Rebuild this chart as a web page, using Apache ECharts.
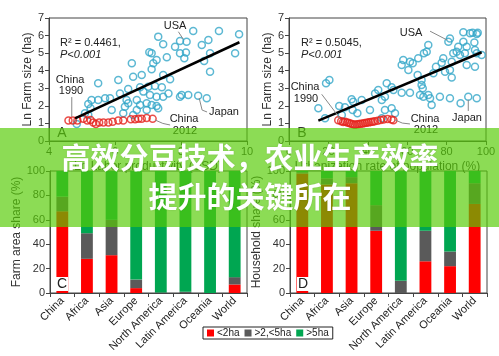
<!DOCTYPE html>
<html><head><meta charset="utf-8">
<script src="https://cdn.jsdelivr.net/npm/echarts@6/dist/echarts.min.js"></script>
<style>html,body{margin:0;padding:0;background:#fff}#c{width:499px;height:356px}</style>
</head><body><div id="c"></div>
<script>
// ---- Panel A: Ln labour productivity vs Ln farm size ----
const blueA = [[9.76,6.07],[9.15,6.26],[8.37,6.26],[7.31,5.94],[7.46,5.50],[7.97,5.69],[8.17,5.65],[7.82,5.37],[8.63,5.46],[8.83,5.75],[8.88,4.99],[9.64,4.99],[8.15,5.03],[7.97,4.99],[8.10,4.71],[7.04,5.05],[7.11,4.99],[7.57,4.76],[7.26,4.61],[7.16,4.42],[7.11,4.08],[6.51,4.42],[7.46,3.76],[7.67,3.51],[8.70,4.55],[8.88,3.94],[6.81,3.76],[6.55,3.66],[6.10,3.47],[5.49,3.28],[6.40,2.96],[6.76,3.06],[6.86,2.81],[7.01,3.09],[7.21,3.13],[7.42,3.06],[7.06,2.62],[7.26,2.52],[7.46,2.52],[6.15,2.71],[5.85,2.43],[5.70,2.43],[5.49,2.33],[5.29,2.33],[5.19,2.11],[5.26,1.86],[6.35,2.33],[6.40,2.15],[6.30,1.95],[6.66,2.33],[6.76,2.05],[6.96,2.15],[7.11,2.05],[7.26,1.99],[6.66,1.76],[6.96,1.76],[7.31,1.86],[5.90,1.76],[6.25,1.58],[6.55,1.48],[7.97,2.52],[8.02,2.62],[8.22,2.62],[8.52,2.58],[8.78,2.43],[7.62,2.71],[5.09,1.58],[5.19,1.48],[4.84,0.97]];
const redA = [[4.59,1.16],[4.72,1.16],[4.86,1.16],[5.04,1.27],[5.16,1.16],[5.26,1.20],[5.34,1.05],[5.42,0.97],[5.52,1.05],[5.65,1.05],[5.80,1.05],[5.93,1.10],[6.10,1.16],[6.25,1.16],[6.48,1.24],[6.61,1.24],[6.71,1.27],[6.81,1.27],[6.96,1.31],[7.14,1.27]];
const trendA = [[4.79,1.29],[9.77,5.62]];
const leadA = [
  [[7.92,6.22],[8.07,5.79]],
  [[4.69,2.50],[4.69,1.37]],
  [[8.55,2.45],[8.64,1.76],[8.79,1.65]],
  [[7.21,1.20],[7.45,1.00],[7.67,0.91]]
];
// ---- Panel B: urbanization vs Ln farm size ----
const blueB = [[14.9,1.86],[18.3,1.29],[18.8,3.28],[20.5,3.47],[25.5,1.99],[28.4,1.92],[26.8,1.48],[31.8,2.37],[32.6,2.24],[32.3,1.76],[34.7,1.58],[36.9,2.33],[41.1,1.76],[45.3,2.90],[43.7,2.71],[47.1,2.33],[49.6,3.28],[48.7,2.52],[52.1,3.06],[53.0,2.90],[48.7,1.76],[52.1,1.86],[53.8,1.58],[47.1,1.29],[57.2,2.75],[61.4,2.75],[58.0,4.61],[61.4,4.51],[62.8,4.42],[57.2,4.33],[60.6,4.04],[65.6,4.71],[65.3,3.76],[67.3,3.47],[67.3,3.19],[67.9,3.00],[66.5,2.62],[68.2,2.52],[70.7,2.62],[71.6,2.43],[72.4,2.05],[76.6,2.52],[81.7,2.43],[68.5,4.99],[69.9,5.08],[70.7,5.46],[73.3,3.85],[74.6,4.23],[77.5,4.46],[78.3,4.71],[82.6,4.51],[81.7,4.04],[82.6,3.62],[79.2,3.94],[80.9,5.65],[81.7,5.84],[83.4,4.99],[85.1,5.08],[85.9,5.37],[86.8,4.89],[88.5,5.65],[89.3,4.99],[90.2,5.37],[93.2,6.16],[95.8,6.16],[95.3,6.09],[94.1,5.60],[94.4,5.18],[95.3,4.99],[90.2,4.33],[94.4,4.23],[97.8,4.89],[91.9,6.13],[88.5,6.19],[87.1,2.15],[91.0,2.52],[95.3,2.43]];
const redB = [[25,1.18],[26.5,1.12],[27.5,1.08],[28.5,1.10],[29.5,1.05],[30.5,1.02],[31.5,0.98],[32.5,0.95],[33.5,0.93],[34.5,0.95],[35.5,0.97],[36.5,0.98],[37.5,1.00],[38.5,1.02],[39.5,1.04],[40.5,1.06],[41.5,1.08],[42.5,1.10],[43.5,1.12],[45,1.15],[46.5,1.20],[48,1.22],[50,1.25],[52,1.22],[53,1.18]];
const trendB = [[14.9,1.16],[97.8,5.05]];
const leadB = [
  [[71.6,6.25],[80.2,5.75]],
  [[16.6,2.66],[25.9,1.29]],
  [[91.0,2.35],[91.0,1.71]],
  [[53.8,1.20],[57.5,1.02],[61.4,0.97]]
];
// ---- Panels C & D: stacked shares ----
const categories = ['China','Africa','Asia','Europe','North America','Latin America','Oceania','World'];
const seriesNames = ['<2ha','>2,<5ha','>5ha'];
const areaSmall = [67,28,31,4,0,0,0,7];
const areaMid   = [12,21,29,7,0.5,1,0,6];
const areaLarge = [21,51,40,89,99.5,99,100,87];
const hhSmall = [98,89,90,51,0,26,22,73];
const hhMid   = [1,5,5,21,10,25,12,17];
const hhLarge = [1,6,5,28,90,49,66,10];
const ticksFarm = {min:0,max:7,interval:1};
const ticksShare = {min:0,max:100,interval:20};

const BLUE = '#33a6c8', RED = '#e5221c';
const BAR_COLORS = ['#ff0000','#5a5a5a','#00a651'];
const FONT = 'Liberation Sans, Arial, sans-serif';
const AX = '#444', TXT = '#333';

const chart = echarts.init(document.getElementById('c'), null, {renderer:'canvas'});

function valAxis(gi, ext, name, gap){
  return {type:'value', gridIndex:gi, min:ext.min, max:ext.max, interval:ext.interval,
    name:name, nameLocation:'middle', nameGap:gap, nameTextStyle:{fontSize:12,color:TXT,fontFamily:FONT},
    axisLine:{show:true,lineStyle:{color:AX,width:1}}, axisTick:{show:true,length:4,lineStyle:{color:AX}},
    axisLabel:{fontSize:11,color:TXT,fontFamily:FONT,margin:5}, splitLine:{show:false}};
}
function catAxis(gi){
  return {type:'category', gridIndex:gi, data:categories, boundaryGap:true,
    axisLine:{show:true,lineStyle:{color:AX,width:1}}, axisTick:{show:true,length:4,lineStyle:{color:AX}},
    axisLabel:{fontSize:11,color:'#222',fontFamily:FONT,rotate:45,interval:0,margin:6}, splitLine:{show:false}};
}
function ring(data, color, xi, z){
  return {type:'scatter', xAxisIndex:xi, yAxisIndex:xi, data:data, symbol:'circle', symbolSize:7, z:z,
    itemStyle:{color:'rgba(255,255,255,0)', borderColor:color, borderWidth:1.5}, silent:true};
}
function line(data, xi, color, w){
  return {type:'line', xAxisIndex:xi, yAxisIndex:xi, data:data, symbol:'none', z:5, silent:true,
    lineStyle:{color:color,width:w}};
}
function bars(gi, arrs){
  return arrs.map((a,i)=>({type:'bar', name:seriesNames[i], stack:'s'+gi, xAxisIndex:gi, yAxisIndex:gi,
    data:a, barWidth:'48%', itemStyle:{color:BAR_COLORS[i]}, silent:true}));
}

const series = [
  ring(blueA, BLUE, 0, 3), ring(redA, RED, 0, 4), line(trendA, 0, '#000', 2.5),
  ...leadA.map(d=>line(d,0,'#888',1)),
  ring(blueB, BLUE, 1, 3), ring(redB, RED, 1, 4), line(trendB, 1, '#000', 2.5),
  ...leadB.map(d=>line(d,1,'#888',1)),
  ...bars(2, [areaSmall, areaMid, areaLarge]),
  ...bars(3, [hhSmall, hhMid, hhLarge])
];

function t(text, x, y, opts){
  return Object.assign({type:'text', x:x, y:y, z:50, style:Object.assign({text:text, fontSize:11, fill:'#222',
    fontFamily:FONT, align:'center', verticalAlign:'middle'}, opts||{})});
}

const graphic = [
  t('R² = 0.4461,', 60, 43, {align:'left'}),
  t('P<0.001', 60, 55, {align:'left', fontStyle:'italic'}),
  t('USA', 175, 26),
  t('China', 70, 80), t('1990', 71, 91),
  t('Japan', 224, 112),
  t('China', 184, 119), t('2012', 185, 131),
  t('A', 62, 133, {fontSize:14, fill:'#333'}),
  t('R² = 0.5045,', 301, 43, {align:'left'}),
  t('P<0.001', 301, 55, {align:'left', fontStyle:'italic'}),
  t('USA', 411, 33),
  t('China', 305, 87, {backgroundColor:'#fff'}), t('1990', 306, 99),
  t('Japan', 467, 118),
  t('China', 425, 119), t('2012', 426, 130),
  t('B', 302, 133, {fontSize:14, fill:'#333'}),
  t('C', 62, 284, {fontSize:14, fill:'#222', backgroundColor:'#fff', padding:[0,1]}),
  t('D', 303, 284, {fontSize:14, fill:'#222', backgroundColor:'#fff', padding:[0,1]}),
  {type:'rect', z:100, shape:{x:0,y:128,width:499,height:99}, style:{fill:'rgba(85,203,5,0.68)'}},
  {type:'text', z:101, x:250, y:158, style:{text:'高效分豆技术，农业生产效率', fontSize:29, fontWeight:'bold',
    fontFamily:'Noto Sans CJK SC', fill:'#fff', align:'center', verticalAlign:'middle',
    textShadowColor:'rgba(0,0,0,0.15)', textShadowBlur:2}},
  {type:'text', z:101, x:250, y:197, style:{text:'提升的关键所在', fontSize:29, fontWeight:'bold',
    fontFamily:'Noto Sans CJK SC', fill:'#fff', align:'center', verticalAlign:'middle',
    textShadowColor:'rgba(0,0,0,0.15)', textShadowBlur:2}}
];

const gridBase = {show:true, borderColor:AX, borderWidth:1, containLabel:false, outerBoundsMode:'none'};
chart.setOption({
  animation:false,
  textStyle:{fontFamily:FONT},
  grid:[
    Object.assign({left:49, top:18, width:198, height:123}, gridBase),
    Object.assign({left:289, top:18, width:197, height:123}, gridBase),
    Object.assign({left:50, top:171, width:197, height:122}, gridBase),
    Object.assign({left:290, top:171, width:197, height:122}, gridBase)
  ],
  xAxis:[
    valAxis(0,{min:4,max:10,interval:2},'Ln Labor productivity (USD)',20),
    valAxis(1,{min:0,max:100,interval:20},'Urbanization rate of population (%)',20),
    catAxis(2), catAxis(3)
  ],
  yAxis:[
    valAxis(0, ticksFarm, 'Ln Farm size (ha)', 15),
    valAxis(1, ticksFarm, 'Ln Farm size (ha)', 15),
    valAxis(2, ticksShare, 'Farm area share (%)', 23),
    valAxis(3, ticksShare, 'Household share (%)', 23)
  ],
  legend:{data:seriesNames, left:203, top:327, orient:'horizontal', itemWidth:7, itemHeight:7, itemGap:5,
    icon:'rect', padding:[1,4], borderColor:'#222', borderWidth:1, backgroundColor:'#fff',
    textStyle:{fontSize:10, color:'#222', fontFamily:FONT, padding:[0,0,0,-2]}, selectedMode:false},
  series:series,
  graphic:graphic
});
</script></body></html>
